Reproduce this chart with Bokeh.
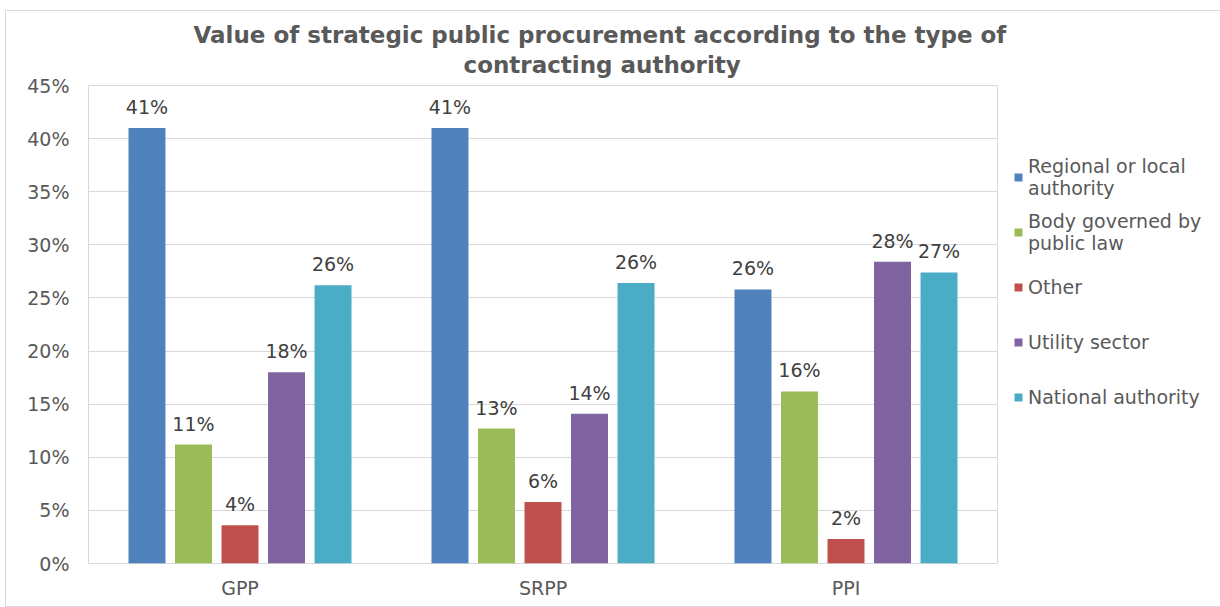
from bokeh.plotting import figure
from bokeh.models import (FactorRange, Range1d, Legend, LegendItem, ColumnDataSource,
                          NumeralTickFormatter, FixedTicker, Title)
from bokeh.transform import dodge
from bokeh.embed import file_html
from bokeh.resources import INLINE
from bokeh.core.properties import value

# ---- data ----
categories = ["GPP", "SRPP", "PPI"]
series_names = ["Regional or local\nauthority", "Body governed by\npublic law", "Other",
                "Utility sector", "National authority"]
regional = [0.410, 0.410, 0.258]
body_public_law = [0.112, 0.127, 0.162]
other = [0.036, 0.058, 0.023]
utility = [0.180, 0.141, 0.284]
national = [0.262, 0.264, 0.274]
series_values = [regional, body_public_law, other, utility, national]
colors = ["#4F81BD", "#9BBB59", "#C0504D", "#8064A2", "#4BACC6"]
y_ticks = [0.0, 0.05, 0.10, 0.15, 0.20, 0.25, 0.30, 0.35, 0.40, 0.45]
title_lines = ["Value of strategic public procurement according to the type of",
               "contracting authority"]

FONT = "DejaVu Sans"
LEFT, RIGHT, TOP, BOTTOM = 82, 222, 74, 43
FW, FH = 909, 478

p = figure(frame_width=FW, frame_height=FH, x_range=FactorRange(*categories),
           y_range=Range1d(0, 0.45), output_backend="svg", toolbar_location=None,
           min_border_left=LEFT, min_border_right=RIGHT, min_border_top=TOP,
           min_border_bottom=BOTTOM,
           styles={"margin": "10px 0px 0px 5px", "border": "1px solid #D9D9D9"})
p.outline_line_color = "#D9D9D9"
p.outline_line_width = 1

step = 0.1535
bar_w = 0.122
offsets = [(i - 2) * step for i in range(5)]
items = []
for name, vals, col, off in zip(series_names, series_values, colors, offsets):
    src = ColumnDataSource(dict(cat=categories, val=vals,
                                label=[f"{round(v * 100)}%" for v in vals]))
    r = p.vbar(x=dodge("cat", off, range=p.x_range), top="val", width=bar_w, source=src,
               fill_color=col, line_color=None)
    p.text(x=dodge("cat", off, range=p.x_range), y="val", text="label", source=src,
           text_align="center", text_baseline="alphabetic", y_offset=-21,
           text_font=value(FONT), text_font_size="19px", text_color="#404040")
    items.append(LegendItem(label=name, renderers=[r]))

legend = Legend(items=items, location="top_left", margin=16, padding=0, spacing=10,
                glyph_width=10, glyph_height=10, label_standoff=5,
                label_text_font=FONT, label_text_font_size="19px",
                label_text_color="#595959", border_line_color=None,
                background_fill_alpha=0, label_height=45,
                title=" ", title_text_font_size="19px", title_standoff=31)
p.add_layout(legend, "right")

p.yaxis.ticker = FixedTicker(ticks=y_ticks)
p.yaxis.formatter = NumeralTickFormatter(format="0%")
for ax in (p.xaxis, p.yaxis):
    ax.axis_line_color = None
    ax.major_tick_line_color = None
    ax.minor_tick_line_color = None
    ax.major_label_text_font = FONT
    ax.major_label_text_font_size = "19px"
    ax.major_label_text_color = "#595959"
p.yaxis.major_label_standoff = 13
p.xaxis.major_label_standoff = 7
p.xgrid.grid_line_color = None
p.ygrid.grid_line_color = "#D9D9D9"
p.ygrid.grid_line_width = 1

# title: two centred lines (second added first: nearest the frame)
frame_left_page = 88
for txt, left_page, st in [(title_lines[1], 463, 16), (title_lines[0], 193, -12)]:
    p.add_layout(Title(text=txt, align="left", offset=left_page - frame_left_page,
                       standoff=st, text_font=FONT, text_font_size="23px",
                       text_font_style="bold", text_color="#595959"), "above")

open("out.html", "w").write(file_html(p, INLINE))
